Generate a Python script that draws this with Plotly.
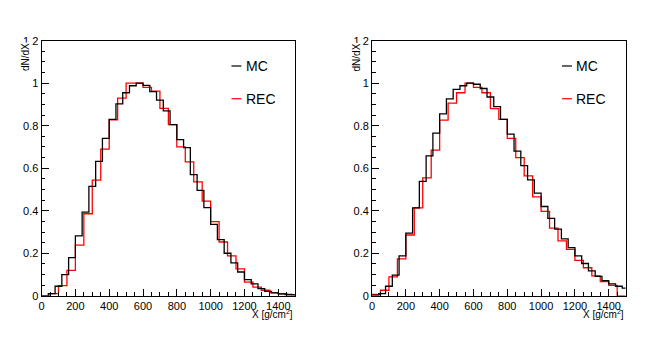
import numpy as np
import plotly.graph_objects as go

# === Data: normalised depth distributions ===
# MC histograms use 40 g/cm2 bins, REC histograms use 50 g/cm2 bins
mc_width = 40
rec_width = 50

mc_left = [0.0, 0.01, 0.045, 0.10, 0.18, 0.282, 0.394, 0.515, 0.632, 0.74,
           0.83, 0.903, 0.955, 0.988, 1.0, 0.99, 0.96, 0.92, 0.87, 0.805,
           0.735, 0.697, 0.57, 0.496, 0.415, 0.336, 0.264, 0.20, 0.155, 0.112,
           0.076, 0.056, 0.034, 0.021, 0.014, 0.009, 0.006, 0.004]
rec_left = [0.0, 0.01, 0.048, 0.12, 0.238, 0.386, 0.544, 0.69, 0.827, 0.93,
            1.0, 1.0, 0.98, 0.963, 0.882, 0.805, 0.70, 0.63, 0.536, 0.445,
            0.349, 0.253, 0.188, 0.127, 0.064, 0.041, 0.026, 0.015, 0.009, 0.004]

mc_right = [0.003, 0.01, 0.045, 0.097, 0.188, 0.295, 0.414, 0.538, 0.658, 0.765,
            0.856, 0.926, 0.971, 0.988, 1.0, 0.995, 0.975, 0.935, 0.89, 0.83,
            0.76, 0.68, 0.612, 0.545, 0.483, 0.42, 0.364, 0.314, 0.268, 0.227,
            0.188, 0.152, 0.117, 0.091, 0.071, 0.056, 0.045, 0.036]
rec_right = [0.006, 0.026, 0.089, 0.174, 0.286, 0.414, 0.555, 0.685, 0.826, 0.906,
             0.955, 1.0, 0.98, 0.955, 0.88, 0.83, 0.74, 0.65, 0.564, 0.465,
             0.397, 0.318, 0.258, 0.218, 0.167, 0.132, 0.094, 0.067, 0.049, 0.0]

x_ticks = [0, 200, 400, 600, 800, 1000, 1200, 1400]
y_ticks = [0, 0.2, 0.4, 0.6, 0.8, 1, 1.2]


def step_xy(vals, width):
    edges = np.arange(len(vals) + 1) * width
    return edges, list(vals) + [vals[-1]]


fig = go.Figure()

panels = [
    (mc_left, rec_left, "x", "y"),
    (mc_right, rec_right, "x2", "y2"),
]
for mc, rec, xa, ya in panels:
    # REC first so MC sits on top
    ex, ey = step_xy(rec, rec_width)
    fig.add_trace(go.Scatter(x=ex, y=ey, mode="lines", line_shape="hv",
                             line=dict(color="#ff0000", width=1.3),
                             xaxis=xa, yaxis=ya, showlegend=False))
    ex, ey = step_xy(mc, mc_width)
    fig.add_trace(go.Scatter(x=ex, y=ey, mode="lines", line_shape="hv",
                             line=dict(color="black", width=1.3),
                             xaxis=xa, yaxis=ya, showlegend=False))

font = dict(family="Liberation Sans, Arial, sans-serif", size=11, color="black")

xax = dict(range=[0, 1500], tickvals=x_ticks, ticks="inside", ticklen=7,
           tickwidth=1, tickcolor="black", showline=True, linecolor="black",
           linewidth=1, mirror=True, showgrid=False, zeroline=False,
           tickfont=font, minor=dict(dtick=50, ticks="inside", ticklen=3.5,
                                     tickcolor="black", showgrid=False))
yax = dict(range=[0, 1.2], tickvals=y_ticks, ticks="inside", ticklen=7,
           tickwidth=1, tickcolor="black", showline=True, linecolor="black",
           linewidth=1, mirror=True, showgrid=False, zeroline=False,
           tickfont=font, minor=dict(dtick=0.05, ticks="inside", ticklen=3.5,
                                     tickcolor="black", showgrid=False))

# page body adds an 8px margin, so the figure is 16px smaller and shifted
OFF = 8
W, H = 664 - 2 * OFF, 338 - 2 * OFF


def px(x):
    return (x - OFF) / W


def py(y):
    return (H - (y - OFF)) / H


fig.update_layout(
    width=W, height=H,
    margin=dict(l=0, r=0, t=0, b=0),
    plot_bgcolor="white", paper_bgcolor="white",
    xaxis=dict(xax, domain=[px(38.7), px(293.5)], anchor="y"),
    yaxis=dict(yax, domain=[py(300.7), py(35.7)], anchor="x"),
    xaxis2=dict(xax, domain=[px(370.7), px(625.5)], anchor="y2"),
    yaxis2=dict(yax, domain=[py(300.7), py(35.7)], anchor="x2"),
)

# axis titles and legends
for x0, right in [(38.7, 293.5), (370.7, 625.5)]:
    fig.add_annotation(x=px(x0 - 16), y=py(37.5), xref="paper", yref="paper",
                       text="dN/dX", textangle=-90, showarrow=False,
                       xanchor="center", yanchor="top", bgcolor="white",
                       borderpad=0, font=dict(font, size=10))
    fig.add_annotation(x=px(right), y=py(320), xref="paper", yref="paper",
                       text="X [g/cm<sup>2</sup>]", showarrow=False,
                       xanchor="right", yanchor="middle", font=dict(font, size=10))
    lx = right - 64
    for label, col, yy in [("MC", "black", 62), ("REC", "#ff0000", 96)]:
        fig.add_shape(type="line", xref="paper", yref="paper",
                      x0=px(lx), x1=px(lx + 10), y0=py(yy), y1=py(yy),
                      line=dict(color=col, width=1.2))
        fig.add_annotation(x=px(lx + 12.5), y=py(yy), xref="paper", yref="paper",
                           text=label, showarrow=False, xanchor="left",
                           yanchor="middle", font=dict(font, size=14))

fig.write_html("out.html")
